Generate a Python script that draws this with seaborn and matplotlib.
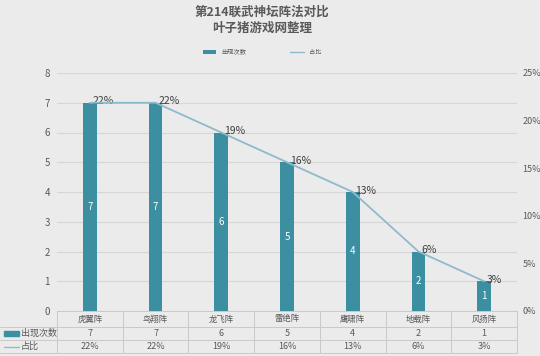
import numpy as np
import pandas as pd
import seaborn as sns
import matplotlib.pyplot as plt
from matplotlib.patches import Patch, Rectangle
from matplotlib.lines import Line2D

# chart data
formations = ['虎翼阵', '鸟翔阵', '龙飞阵', '雷绝阵', '鹰啸阵', '地载阵', '风扬阵']
counts = [7, 7, 6, 5, 4, 2, 1]
share_labels = ['22%', '22%', '19%', '16%', '13%', '6%', '3%']
left_ticks = [0, 1, 2, 3, 4, 5, 6, 7, 8]
right_ticks = [0, 0.05, 0.10, 0.15, 0.20, 0.25]

title = '第214联武神坛阵法对比\n叶子猪游戏网整理'
bar_name = '出现次数'
line_name = '占比'

BG = '#ebebeb'
BAR = '#3b8fa1'
LINE = '#8fbacb'
TXT = '#595959'
GRID = '#d6d6d6'

sns.set_theme(style='white')
plt.rcParams['font.family'] = ['Noto Sans CJK SC', 'DejaVu Sans']

df = pd.DataFrame({'阵法': formations, 'count': counts})
df['share'] = df['count'] / df['count'].sum()
df['pos'] = np.arange(len(df))

W, H = 540, 356
fig = plt.figure(figsize=(W / 100, H / 100), dpi=100, facecolor=BG)

# plot area in pixels: x 57..517, y 73..311
ax = fig.add_axes([57 / W, 1 - 311 / H, 460 / W, 238 / H])
ax.set_facecolor(BG)
sns.barplot(data=df, x='阵法', y='count', color=BAR, width=0.21,
            saturation=1, linewidth=0, ax=ax, zorder=3)
ax.set_xlim(-0.5, len(df) - 0.5)
ax.set_ylim(0, 8)
ax.set_yticks(left_ticks)
ax.set_xticks([])
ax.set_xlabel('')
ax.set_ylabel('')
ax.tick_params(axis='y', labelsize=7, colors=TXT, length=0, pad=5)
ax.yaxis.grid(True, color=GRID, linewidth=0.8, zorder=0)
for s in ax.spines.values():
    s.set_visible(False)

# bar value labels, white, in the middle of each bar
for p, c in zip(ax.patches, df['count']):
    ax.text(p.get_x() + p.get_width() / 2, c / 2, str(c), color='white',
            ha='center', va='center', fontsize=7, zorder=4)

# share line on the secondary axis
ax2 = ax.twinx()
sns.lineplot(data=df, x='pos', y='share', color=LINE, linewidth=1.3,
             ax=ax2, zorder=5)
ax2.set_ylim(0, 0.25)
ax2.set_yticks(right_ticks)
ax2.set_yticklabels([f'{int(round(t * 100))}%' for t in right_ticks])
ax2.tick_params(axis='y', labelsize=6.5, colors=TXT, length=0, pad=4)
ax2.set_xlabel('')
ax2.set_ylabel('')
for s in ax2.spines.values():
    s.set_visible(False)
for x, y, lab in zip(df['pos'], df['share'], share_labels):
    ax2.annotate(lab, (x, y), xytext=(2, 1), textcoords='offset points',
                 ha='left', va='center', fontsize=7.5, color='#404040')

# title
fig.text(262 / W, 1 - 20 / H, title, ha='center', va='center', fontsize=9,
         fontweight='bold', color=TXT, linespacing=1.35)

# top legend
handles = [Patch(facecolor=BAR, edgecolor='none'),
           Line2D([], [], color=LINE, linewidth=1)]
fig.legend(handles, [bar_name, line_name], loc='center',
           bbox_to_anchor=(262 / W, 1 - 52 / H), ncol=2, frameon=False,
           fontsize=4.5, handlelength=2.2, handleheight=0.6,
           columnspacing=7, labelcolor=TXT)

# data table under the chart
tline = dict(color='#c9c9c9', linewidth=0.7)
rows_px = [311, 327, 340, 353]
fy = [1 - r / H for r in rows_px]
x0, x1 = 57 / W, 517 / W
fig.add_artist(Line2D([x0, x1], [fy[0], fy[0]], **tline))
for yy in fy[1:]:
    fig.add_artist(Line2D([0, x1], [yy, yy], **tline))
n = len(formations)
for i in range(n + 1):
    xx = (57 + i * 460 / n) / W
    fig.add_artist(Line2D([xx, xx], [fy[0], fy[3]], **tline))
for i, name in enumerate(formations):
    xc = (57 + (i + 0.5) * 460 / n) / W
    fig.text(xc, (fy[0] + fy[1]) / 2, name, ha='center', va='center',
             fontsize=6, color=TXT)
    fig.text(xc, (fy[1] + fy[2]) / 2, str(counts[i]), ha='center',
             va='center', fontsize=6.5, color=TXT)
    fig.text(xc, (fy[2] + fy[3]) / 2, share_labels[i], ha='center',
             va='center', fontsize=6.5, color=TXT)

# row headers with small legend keys
fig.add_artist(Rectangle((4 / W, (fy[1] + fy[2]) / 2 - 2.5 / H), 15 / W, 5 / H,
                         transform=fig.transFigure, color=BAR))
fig.text(21 / W, (fy[1] + fy[2]) / 2, bar_name, ha='left', va='center',
         fontsize=6.5, color=TXT)
fig.add_artist(Line2D([4 / W, 19 / W], [(fy[2] + fy[3]) / 2] * 2,
                      color=LINE, linewidth=1))
fig.text(21 / W, (fy[2] + fy[3]) / 2, line_name, ha='left', va='center',
         fontsize=6.5, color=TXT)

fig.savefig('out.png', dpi=100, facecolor=BG)
